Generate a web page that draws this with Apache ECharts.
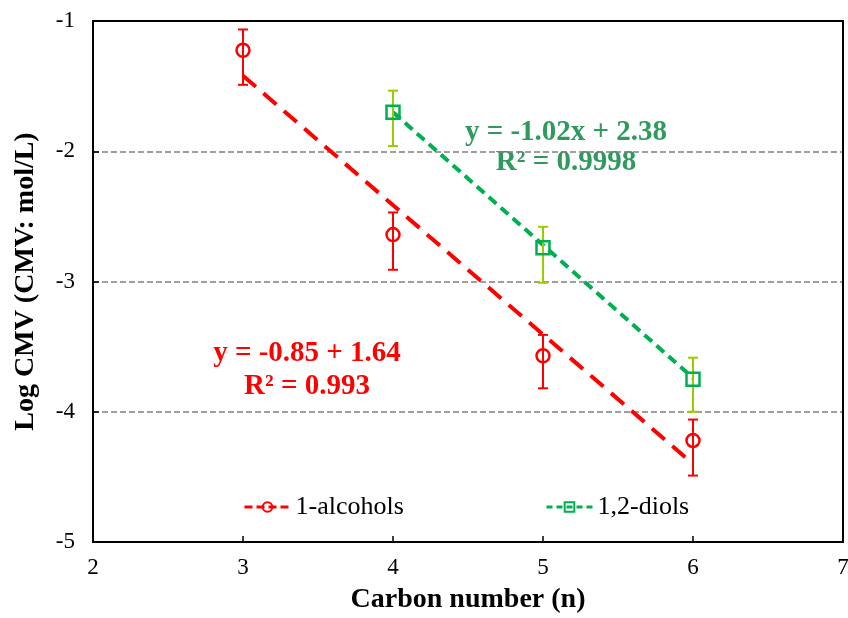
<!DOCTYPE html>
<html>
<head>
<meta charset="utf-8">
<script src="https://cdn.jsdelivr.net/npm/echarts@6/dist/echarts.min.js"></script>
<style>
  html, body { margin: 0; padding: 0; background: #fff; }
  #chart { width: 848px; height: 618px; }
</style>
</head>
<body>
<div id="chart"></div>
<script>
// values
const carbon = [3, 4, 5, 6]
const alcohols = [-1.225, -2.64, -3.57, -4.22]
const alcoholsLow = [-1.49, -2.91, -3.82, -4.49]
const alcoholsHigh = [-1.065, -2.47, -3.41, -4.06]
const diolCarbon = [4, 5, 6]
const diols = [-1.70, -2.74, -3.75]
const diolsLow = [-1.96, -3.01, -4.00]
const diolsHigh = [-1.535, -2.58, -3.585]
// trendline end points
const alcoholsTrend = [[3, -1.42], [6, -4.40]]
const diolsTrend = [[4, -1.70], [6, -3.74]]
const xTicks = [2, 3, 4, 5, 6, 7]
const yTicks = [-5, -4, -3, -2, -1]

const RED = '#ff0000'
const GREEN = '#00b050'
const BAR_GREEN = '#99cc00'
const TEXT_GREEN = '#2e9a5e'
const FONT = '"Liberation Serif", "Times New Roman", serif'

const chart = echarts.init(document.getElementById('chart'))

// vertical error bar with caps
function errorSeries(xs, lo, hi, color) {
  return {
    type: 'custom',
    silent: true,
    z: 3,
    data: xs.map((x, i) => [x, lo[i], hi[i]]),
    renderItem: function (params, api) {
      const a = api.coord([api.value(0), api.value(1)])
      const b = api.coord([api.value(0), api.value(2)])
      const w = 5
      const style = { stroke: color, lineWidth: 2 }
      return {
        type: 'group',
        children: [
          { type: 'line', shape: { x1: a[0], y1: a[1], x2: b[0], y2: b[1] }, style: style },
          { type: 'line', shape: { x1: a[0] - w, y1: a[1], x2: a[0] + w, y2: a[1] }, style: style },
          { type: 'line', shape: { x1: b[0] - w, y1: b[1], x2: b[0] + w, y2: b[1] }, style: style }
        ]
      }
    }
  }
}

const option = {
  animation: false,
  backgroundColor: '#fff',
  grid: {
    left: 93,
    right: 5,
    top: 21,
    bottom: 76,
    outerBoundsMode: 'none',
    show: true,
    borderColor: '#000',
    borderWidth: 2,
    backgroundColor: 'transparent',
    z: 10
  },
  xAxis: {
    type: 'value',
    min: xTicks[0],
    max: xTicks[xTicks.length - 1],
    interval: 1,
    name: 'Carbon number (n)',
    nameLocation: 'middle',
    nameGap: 44,
    nameTextStyle: { fontFamily: FONT, fontWeight: 'bold', fontSize: 28, color: '#000' },
    axisLine: { lineStyle: { color: '#000', width: 2 } },
    axisTick: { inside: true, length: 6, lineStyle: { color: '#000', width: 1.5 } },
    axisLabel: { fontFamily: FONT, fontSize: 23, color: '#000', margin: 14 },
    splitLine: { show: false }
  },
  yAxis: {
    type: 'value',
    min: yTicks[0],
    max: yTicks[yTicks.length - 1],
    interval: 1,
    name: 'Log CMV (CMV: mol/L)',
    nameLocation: 'middle',
    nameGap: 53,
    nameTextStyle: { fontFamily: FONT, fontWeight: 'bold', fontSize: 28, color: '#000' },
    axisLine: { lineStyle: { color: '#000', width: 2 } },
    axisTick: { inside: true, length: 6, lineStyle: { color: '#000', width: 1.5 } },
    axisLabel: { fontFamily: FONT, fontSize: 23, color: '#000', margin: 18 },
    splitLine: {
      show: true,
      showMinLine: false,
      showMaxLine: false,
      lineStyle: { color: '#808080', type: [6, 3], width: 1.5 }
    }
  },
  legend: [
    {
      left: 238, top: 489,
      itemWidth: 46, itemHeight: 12, itemGap: 8,
      textStyle: { fontFamily: FONT, fontSize: 26, color: '#000' },
      data: [{ name: '1-alcohols', lineStyle: { color: RED, width: 3, type: [8, 4], opacity: 1 } }]
    },
    {
      left: 540, top: 489,
      itemWidth: 46, itemHeight: 12, itemGap: 8,
      textStyle: { fontFamily: FONT, fontSize: 26, color: '#000' },
      data: [{ name: '1,2-diols', lineStyle: { color: GREEN, width: 3, type: [6, 4], opacity: 1 } }]
    }
  ],
  graphic: [
    {
      type: 'text',
      style: {
        x: 566, y: 118, text: 'y = -1.02x + 2.38\nR² = 0.9998', align: 'center',
        font: 'bold 29px ' + FONT, fill: TEXT_GREEN, lineHeight: 30
      }
    },
    {
      type: 'text',
      style: {
        x: 307, y: 337, text: 'y = -0.85 + 1.64\nR² = 0.993', align: 'center',
        font: 'bold 29px ' + FONT, fill: RED, lineHeight: 33
      }
    }
  ],
  series: [
    {
      name: 'alcohols trend',
      type: 'line',
      data: alcoholsTrend,
      symbol: 'none',
      silent: true,
      z: 2,
      lineStyle: { color: RED, width: 4, type: [17, 10] }
    },
    {
      name: 'diols trend',
      type: 'line',
      data: diolsTrend,
      symbol: 'none',
      silent: true,
      z: 2,
      lineStyle: { color: GREEN, width: 4, type: [10, 6] }
    },
    errorSeries(carbon, alcoholsLow, alcoholsHigh, RED),
    errorSeries(diolCarbon, diolsLow, diolsHigh, BAR_GREEN),
    {
      name: '1-alcohols',
      type: 'line',
      data: carbon.map((x, i) => [x, alcohols[i]]),
      symbol: 'circle',
      symbolSize: 13,
      z: 4,
      lineStyle: { width: 0, opacity: 0 },
      itemStyle: { color: 'transparent', borderColor: RED, borderWidth: 2.5 }
    },
    {
      name: '1,2-diols',
      type: 'line',
      data: diolCarbon.map((x, i) => [x, diols[i]]),
      symbol: 'rect',
      symbolSize: 13,
      z: 4,
      lineStyle: { width: 0, opacity: 0 },
      itemStyle: { color: 'transparent', borderColor: GREEN, borderWidth: 2.5 }
    }
  ]
}

chart.setOption(option)
</script>
</body>
</html>
